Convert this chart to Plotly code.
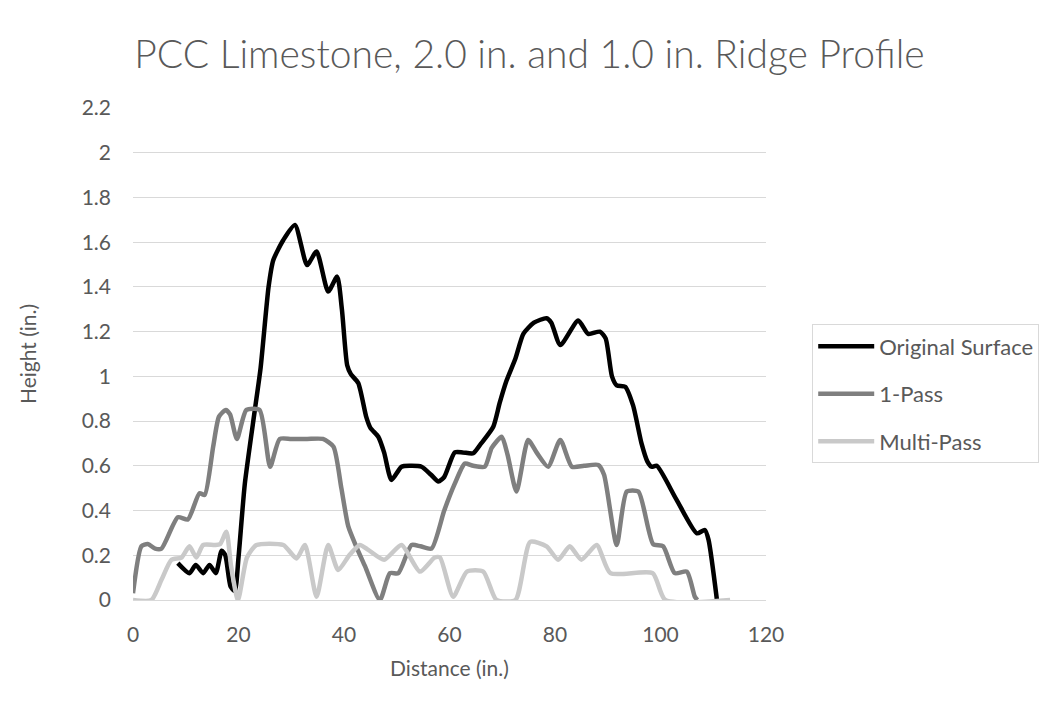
import plotly.graph_objects as go

# Original Surface profile
orig_x = [8.5, 10.7, 11.9, 13.3, 14.5, 15.7, 16.8, 17.5, 18.5, 19.3, 20.0, 21.2, 23.1, 24.2,
          25.7, 26.6, 28.5, 30.7, 33.0, 34.8, 37.0, 38.7, 39.6, 40.6, 41.3, 42.7, 44.2, 45.0,
          46.5, 47.6, 49.0, 50.9, 52.5, 54.7, 56.5, 57.9, 59.0, 61.0, 62.5, 64.5, 66.0, 68.3,
          69.5, 70.8, 72.5, 74.0, 76.0, 78.4, 79.3, 81.0, 84.4, 86.3, 88.5, 89.6, 90.8, 91.7,
          93.3, 94.8, 96.4, 97.5, 98.3, 99.3, 103.0, 106.9, 108.4, 109.1, 110.7]
orig_y = [0.165, 0.12, 0.157, 0.12, 0.157, 0.12, 0.22, 0.2, 0.06, 0.04, 0.19, 0.52, 0.85, 1.04,
          1.40, 1.52, 1.61, 1.677, 1.498, 1.558, 1.379, 1.446, 1.30, 1.05, 1.01, 0.97, 0.82, 0.77,
          0.73, 0.66, 0.537, 0.596, 0.60, 0.596, 0.56, 0.53, 0.55, 0.66, 0.66, 0.656, 0.70, 0.775,
          0.88, 0.98, 1.08, 1.19, 1.24, 1.26, 1.24, 1.14, 1.25, 1.19, 1.20, 1.17, 1.00, 0.96,
          0.954, 0.87, 0.70, 0.62, 0.596, 0.60, 0.45, 0.298, 0.313, 0.27, 0.0]

# 1-Pass profile
p1_x = [0.0, 1.6, 2.8, 4.2, 5.4, 8.5, 10.4, 12.6, 13.6, 15.2, 16.3, 17.6, 18.4, 19.7, 21.5, 24.0,
        26.0, 27.8, 30.0, 33.0, 36.0, 38.0, 39.5, 40.8, 42.3, 44.0, 46.8, 48.7, 50.3, 52.8, 54.5,
        56.6, 59.0, 61.0, 62.9, 64.5, 66.7, 68.0, 69.9, 71.0, 72.7, 74.9, 76.5, 78.7, 81.0, 83.2,
        85.5, 88.2, 89.3, 91.7, 93.6, 95.8, 98.6, 100.5, 102.7, 105.0, 106.5, 107.0]
p1_y = [0.03, 0.24, 0.25, 0.23, 0.23, 0.37, 0.36, 0.477, 0.47, 0.686, 0.82, 0.85, 0.83, 0.72, 0.85, 0.85,
        0.596, 0.72, 0.72, 0.72, 0.72, 0.686, 0.50, 0.33, 0.24, 0.15, 0.0, 0.12, 0.12, 0.246, 0.24,
        0.23, 0.40, 0.52, 0.61, 0.60, 0.596, 0.68, 0.73, 0.65, 0.485, 0.716, 0.66, 0.596, 0.716, 0.596,
        0.60, 0.604, 0.56, 0.246, 0.485, 0.485, 0.25, 0.24, 0.12, 0.127, 0.015, 0.0]

# Multi-Pass profile
mp_x = [0.0, 3.5, 5.4, 7.3, 9.2, 10.7, 12.0, 13.3, 15.5, 16.5, 17.7, 18.6, 19.9, 21.6, 23.4, 28.5,
        31.0, 32.6, 34.8, 37.0, 38.9, 41.0, 43.0, 44.6, 47.6, 50.9, 54.4, 57.2, 58.2, 60.7, 63.3,
        66.4, 68.9, 72.5, 75.3, 78.4, 80.6, 82.8, 85.0, 87.9, 90.5, 98.5, 100.9, 113.2]
mp_y = [0.0, 0.0, 0.09, 0.18, 0.19, 0.24, 0.19, 0.246, 0.246, 0.25, 0.305, 0.15, 0.0, 0.19, 0.246, 0.246,
        0.186, 0.246, 0.015, 0.246, 0.134, 0.20, 0.246, 0.224, 0.18, 0.246, 0.127, 0.19, 0.19, 0.015, 0.127,
        0.127, 0.0, 0.0, 0.26, 0.24, 0.18, 0.24, 0.18, 0.246, 0.12, 0.12, 0.0, 0.0]

x_ticks = [0, 20, 40, 60, 80, 100, 120]
y_ticks = [0, 0.2, 0.4, 0.6, 0.8, 1, 1.2, 1.4, 1.6, 1.8, 2, 2.2]
y_labels = ["0", "0.2", "0.4", "0.6", "0.8", "1", "1.2", "1.4", "1.6", "1.8", "2", "2.2"]

FONT = "Lato, 'Open Sans', sans-serif"
TXT = "#595959"

fig = go.Figure()
series = [
    ("Original Surface", orig_x, orig_y, "#000000"),
    ("1-Pass", p1_x, p1_y, "#7f7f7f"),
    ("Multi-Pass", mp_x, mp_y, "#c9c9c9"),
]
for name, xs, ys, col in series:
    fig.add_trace(go.Scatter(
        x=xs, y=ys, name=name, mode="lines", legendgroup=name,
        line=dict(color=col, width=4.5, shape="spline", smoothing=0.6),
    ))

# page has an 8px body margin, so the figure is drawn 8px smaller
fig.update_layout(
    width=1043, height=709,
    paper_bgcolor="white", plot_bgcolor="white",
    margin=dict(l=125, r=285, t=100, b=117),
    font=dict(family=FONT, color=TXT, size=21),
    title=dict(text="PCC Limestone, 2.0 in. and 1.0 in. Ridge Profile",
               x=0.5, xanchor="center", y=0.934, yanchor="middle",
               font=dict(size=39, color=TXT, family=FONT, weight=300)),
    legend=dict(x=1.073, xanchor="left", y=0.419, yanchor="middle",
                bordercolor="#d9d9d9", borderwidth=1, bgcolor="white",
                font=dict(size=22, color=TXT), tracegroupgap=16, itemwidth=56),
    showlegend=True,
)
fig.update_xaxes(
    range=[0, 120], tickvals=x_ticks, showgrid=False, zeroline=False,
    showline=True, linecolor="#d9d9d9", linewidth=1,
    ticks="", ticklabelstandoff=16, tickfont=dict(size=21, color=TXT),
    title=dict(text="Distance (in.)", font=dict(size=21, color=TXT), standoff=16),
)
fig.update_yaxes(
    range=[0, 2.2], tickvals=y_ticks, ticktext=y_labels,
    showgrid=True, gridcolor="#d9d9d9", gridwidth=1, zeroline=False,
    showline=False, ticks="", ticklabelstandoff=21, tickfont=dict(size=21, color=TXT),
    title=dict(text="Height (in.)", font=dict(size=21, color=TXT), standoff=39),
)

fig.write_html("out.html")
